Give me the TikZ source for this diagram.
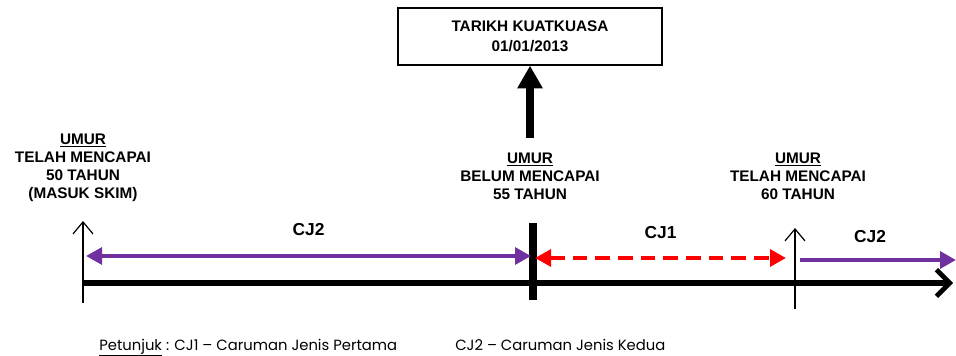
\documentclass[tikz,border=0pt]{standalone}
\usepackage{fontspec}
\setmainfont{Liberation Sans}
\newfontfamily\legendfont{Poppins}
\usepackage{tikz}
\usetikzlibrary{arrows.meta}
\definecolor{purple500}{HTML}{7030A0}
\definecolor{red500}{HTML}{FF0000}
\tikzstyle{umur}=[align=center, font=\fontsize{11.5}{13.5}\selectfont\bfseries, inner sep=0pt]
\tikzstyle{cjlabel}=[font=\fontsize{13}{15}\selectfont\bfseries, inner sep=0pt]
\tikzstyle{tarikh}=[draw=black, line width=1pt, minimum width=198pt, minimum height=42.75pt, align=center, font=\fontsize{11.5}{15}\selectfont\bfseries]
\tikzstyle{tempoh}=[line width=3.2pt, {Triangle[length=12pt,width=12.5pt]}-{Triangle[length=12pt,width=12.5pt]}]
\tikzstyle{penanda}=[line width=0.9pt, -{Straight Barb[length=9pt,width=15pt]}]
\tikzstyle{petunjuk}=[anchor=base west, inner sep=0pt, font=\legendfont\fontsize{11.1}{12}\selectfont]

\begin{document}
\begin{tikzpicture}[x=0.75pt, y=-0.75pt]
				\useasboundingbox (0,0) rectangle (956,356);
				% kotak tarikh
				\node[tarikh] (tarikh) at (530,36.5) {TARIKH KUATKUASA\\01/01/2013};
				\coordinate (tiang) at (530,138);
				\draw[line width=6pt, -{Triangle[length=17pt,width=18pt]}] (tiang)--(tarikh.south);
				% label umur
				\node[umur] (umur50) at (83,168) {\underline{UMUR}\\TELAH MENCAPAI\\50 TAHUN\\(MASUK SKIM)};
				\node[umur] (umur55) at (530,176) {\underline{UMUR}\\BELUM MENCAPAI\\55 TAHUN};
				\node[umur] (umur60) at (798,176) {\underline{UMUR}\\TELAH MENCAPAI\\60 TAHUN};
				% paksi masa
				\coordinate (p0) at (83,283);
				\coordinate (p1) at (953,283);
				\draw[line width=3.8pt, -{Straight Barb[length=10pt,width=20pt,line width=3.5pt]}] (p0)--(p1);
				\coordinate (bar1) at (533,223);
				\coordinate (bar2) at (533,300);
				\draw[line width=5.5pt] (bar1)--(bar2);
				\coordinate (a1) at (83,303);
				\coordinate (a2) at (83,221);
				\draw[penanda] (a1)--(a2);
				\coordinate (b1) at (795,309);
				\coordinate (b2) at (795,228);
				\draw[penanda] (b1)--(b2);
				% tempoh caruman
				\coordinate (cj2a) at (86,256);
				\coordinate (cj2b) at (531,256);
				\draw[tempoh, purple500] (cj2a)--node[cjlabel, black, above=14pt]{CJ2} (cj2b);
				\coordinate (cj1a) at (535,258);
				\coordinate (cj1b) at (786,258);
				\draw[tempoh, red500, dash pattern=on 11pt off 6pt] (cj1a)--node[cjlabel, black, above=13pt]{CJ1} (cj1b);
				\coordinate (cj2c) at (800,260);
				\coordinate (cj2d) at (956,260);
				\draw[line width=3.2pt, purple500, -{Triangle[length=12pt,width=12.5pt]}] (cj2c)--(cj2d);
				\node[cjlabel] (cj2kanan) at (870,237) {CJ2};
				% petunjuk
				\node[petunjuk] (petunjuk1) at (99,350) {\underline{Petunjuk} : CJ1 – Caruman Jenis Pertama};
				\node[petunjuk] (petunjuk2) at (455,350) {CJ2 – Caruman Jenis Kedua};
			\end{tikzpicture}
\end{document}
